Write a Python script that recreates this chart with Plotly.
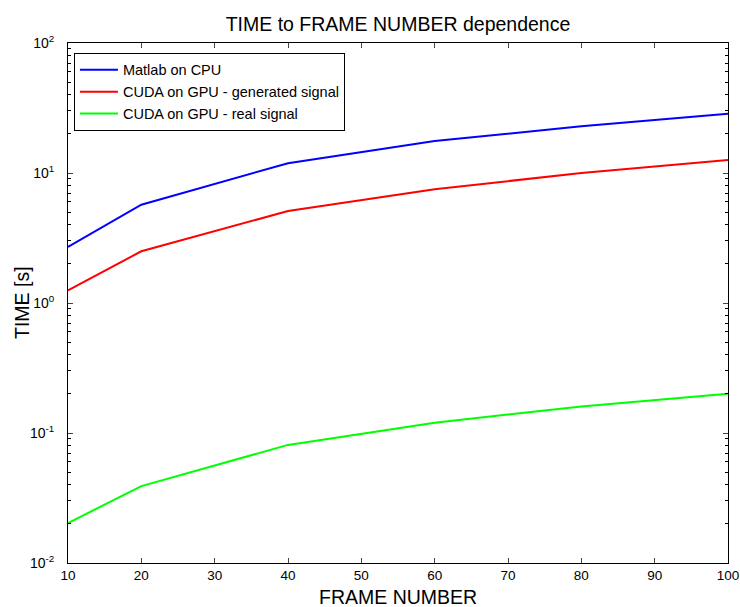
import plotly.graph_objects as go

frames = [10, 20, 40, 60, 80, 100]
matlab_cpu = [2.7, 5.7, 11.9, 17.6, 22.9, 28.5]
cuda_generated = [1.25, 2.5, 5.1, 7.5, 10.0, 12.6]
cuda_real = [0.0203, 0.039, 0.081, 0.12, 0.16, 0.2]

x_ticks = [10, 20, 30, 40, 50, 60, 70, 80, 90, 100]
y_ticks = [0.01, 0.1, 1, 10, 100]
y_ticktext = ["10<sup>-2</sup>", "10<sup>-1</sup>", "10<sup>0</sup>", "10<sup>1</sup>", "10<sup>2</sup>"]

W, H = 740, 607
ML, MR, MT, MB = 68, 12, 43, 44

fig = go.Figure()
fig.add_trace(go.Scatter(x=frames, y=matlab_cpu, mode="lines", name="Matlab on CPU",
                         line=dict(color="#0000ff", width=2)))
fig.add_trace(go.Scatter(x=frames, y=cuda_generated, mode="lines", name="CUDA on GPU - generated signal",
                         line=dict(color="#ff0000", width=2)))
fig.add_trace(go.Scatter(x=frames, y=cuda_real, mode="lines", name="CUDA on GPU - real signal",
                         line=dict(color="#00ff00", width=2)))

font = "Liberation Sans, Arial, sans-serif"
fig.update_layout(
    width=W, height=H,
    margin=dict(l=ML, r=MR, t=MT, b=MB, autoexpand=False),
    paper_bgcolor="white", plot_bgcolor="white",
    font=dict(family=font, color="black", size=13),
    title=dict(text="TIME to FRAME NUMBER dependence", x=0.5, xref="paper", xanchor="center",
               y=1 - 24 / H, yanchor="middle", font=dict(size=19.5, family=font)),
    showlegend=True,
    legend=dict(x=0.009, y=0.981, xanchor="left", yanchor="top",
                bordercolor="black", borderwidth=1, bgcolor="white",
                font=dict(size=14.5, family=font), tracegroupgap=0,
                itemwidth=38),
    annotations=[
        dict(text="FRAME NUMBER", x=0.5, xref="paper", y=0, yref="paper",
             yshift=-34, yanchor="middle", xanchor="center", showarrow=False,
             font=dict(size=19.5, family=font)),
        dict(text="TIME [s]", x=0, xref="paper", y=0.5, yref="paper",
             xshift=-46, xanchor="center", yanchor="middle", textangle=-90,
             showarrow=False, font=dict(size=19.5, family=font)),
    ],
)
fig.update_xaxes(
    range=[10, 100], tickvals=x_ticks, ticks="inside", ticklen=5,
    showline=True, linecolor="black", linewidth=1, mirror="ticks",
    showgrid=False, zeroline=False, automargin=False,
    tickfont=dict(size=13.5), ticklabeloverflow="allow",
)
fig.update_yaxes(
    type="log", range=[-2, 2], tickvals=y_ticks, ticktext=y_ticktext,
    ticks="inside", ticklen=5, ticklabelstandoff=10,
    minor=dict(ticks="inside", ticklen=3, tickcolor="black", showgrid=False, dtick="D1"),
    showline=True, linecolor="black", linewidth=1, mirror="ticks",
    showgrid=False, zeroline=False, automargin=False,
    tickfont=dict(size=14),
)

fig.write_html("out.html", config={"displayModeBar": False},
               post_script="document.body.style.margin='0';document.body.style.overflow='hidden';")
